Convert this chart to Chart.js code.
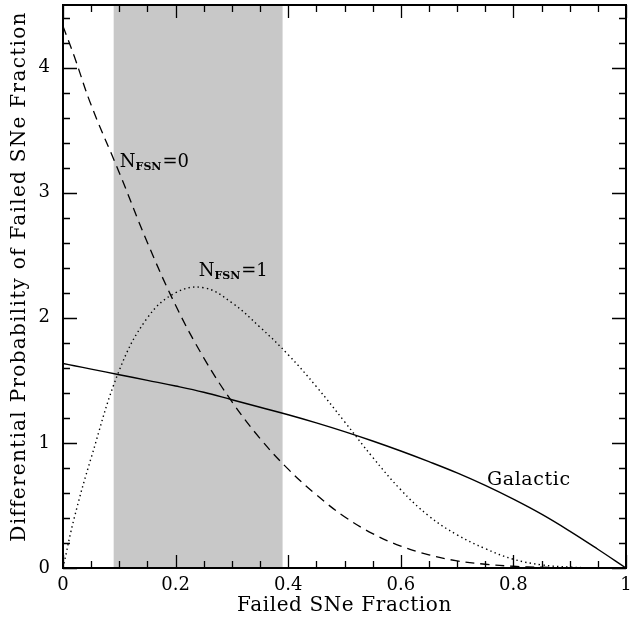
<!DOCTYPE html>
<html>
<head>
<meta charset="utf-8">
<script src="https://cdn.jsdelivr.net/npm/chart.js@4.4.1/dist/chart.umd.min.js"></script>
<style>
  html, body { margin: 0; padding: 0; background: #fff; }
  #wrap { width: 631px; height: 624px; }
</style>
</head>
<body>
<div id="wrap"><canvas id="fsnChart" width="631" height="624"></canvas></div>
<script>
// valores
const fractions  = [0, 0.02, 0.05, 0.1, 0.15, 0.2, 0.25, 0.3, 0.35, 0.4, 0.45, 0.5, 0.55, 0.6, 0.65, 0.7, 0.75, 0.8, 0.85, 0.9, 0.95, 1];
const nfsn0      = [4.33, 4.09, 3.70, 3.16, 2.60, 2.10, 1.68, 1.33, 1.035, 0.79, 0.585, 0.41, 0.275, 0.175, 0.105, 0.057, 0.03, 0.014, 0.006, 0.002, 0.0005, 0];
const nfsn1      = [0, 0.40, 0.88, 1.58, 2.00, 2.20, 2.24, 2.12, 1.925, 1.705, 1.45, 1.17, 0.885, 0.625, 0.415, 0.265, 0.155, 0.07, 0.025, 0.007, 0.001, 0];
const galactic   = [1.635, 1.617, 1.59, 1.545, 1.50, 1.455, 1.405, 1.345, 1.285, 1.225, 1.16, 1.09, 1.015, 0.935, 0.85, 0.76, 0.66, 0.55, 0.43, 0.295, 0.15, 0];
const bandRange  = [0.09, 0.39];
const xTickLabels = ['0', '0.2', '0.4', '0.6', '0.8', '1'];
const yTickLabels = ['0', '1', '2', '3', '4'];

const FONT = '"DejaVu Serif", "Liberation Serif", serif';

function toPoints(ys) {
    return fractions.map((x, i) => ({ x: x, y: ys[i] }));
}

// banda gris + marco, ticks y textos
const framePlugin = {
    id: 'frame',
    beforeDatasetsDraw(chart) {
        const { ctx, chartArea: a, scales: { x } } = chart;
        ctx.save();
        ctx.fillStyle = '#c8c8c8';
        const x0 = x.getPixelForValue(bandRange[0]);
        const x1 = x.getPixelForValue(bandRange[1]);
        ctx.fillRect(x0, a.top, x1 - x0, a.bottom - a.top);
        ctx.restore();
    },
    afterDatasetsDraw(chart) {
        const { ctx, chartArea: a, scales: { x, y } } = chart;
        ctx.save();
        ctx.strokeStyle = '#000';
        ctx.lineWidth = 1.3;

        // ticks hacia dentro en los cuatro lados
        ctx.beginPath();
        for (let i = 0; i <= 20; i++) {
            const v = i * 0.05;
            const px = Math.round(x.getPixelForValue(v)) + 0.5;
            const len = (i % 4 === 0) ? 13 : 7;
            ctx.moveTo(px, a.bottom); ctx.lineTo(px, a.bottom - len);
            ctx.moveTo(px, a.top); ctx.lineTo(px, a.top + len);
        }
        for (let i = 0; i <= 22; i++) {
            const v = i * 0.2;
            const py = Math.round(y.getPixelForValue(v)) + 0.5;
            const len = (i % 5 === 0) ? 14 : 7;
            ctx.moveTo(a.left, py); ctx.lineTo(a.left + len, py);
            ctx.moveTo(a.right, py); ctx.lineTo(a.right - len, py);
        }
        ctx.stroke();

        ctx.lineWidth = 2;
        ctx.strokeRect(a.left, a.top, a.right - a.left, a.bottom - a.top);

        // etiquetas de los ticks
        ctx.fillStyle = '#000';
        ctx.font = '18px ' + FONT;
        ctx.textAlign = 'center';
        ctx.textBaseline = 'middle';
        xTickLabels.forEach(t => {
            ctx.fillText(t, x.getPixelForValue(parseFloat(t)), a.bottom + 17);
        });
        ctx.textAlign = 'right';
        yTickLabels.forEach(t => {
            ctx.fillText(t, a.left - 13, y.getPixelForValue(parseFloat(t)));
        });

        // titulos de ejes
        ctx.font = '20px ' + FONT;
        ctx.textAlign = 'center';
        ctx.letterSpacing = '0.6px';
        ctx.fillText('Failed SNe Fraction', (a.left + a.right) / 2, 606);
        ctx.save();
        ctx.letterSpacing = '1.3px';
        ctx.translate(20, (a.top + a.bottom) / 2 - 10);
        ctx.rotate(-Math.PI / 2);
        ctx.fillText('Differential Probability of Failed SNe Fraction', 0, 0);
        ctx.restore();
        ctx.letterSpacing = '0px';

        // anotaciones de las curvas
        function nLabel(n, px, py) {
            ctx.textAlign = 'left';
            ctx.font = '18px ' + FONT;
            ctx.fillText('N', px, py);
            let w = ctx.measureText('N').width;
            ctx.font = 'bold 11px ' + FONT;
            ctx.fillText('FSN', px + w, py + 5);
            w += ctx.measureText('FSN').width + 1;
            ctx.font = '18px ' + FONT;
            ctx.fillText('=' + n, px + w, py);
        }
        nLabel(0, x.getPixelForValue(0.101), y.getPixelForValue(3.24));
        nLabel(1, x.getPixelForValue(0.241), y.getPixelForValue(2.37));
        ctx.font = '19px ' + FONT;
        ctx.letterSpacing = '0.6px';
        ctx.textAlign = 'left';
        ctx.fillText('Galactic', x.getPixelForValue(0.753), y.getPixelForValue(0.70));
        ctx.restore();
    }
};

new Chart(document.getElementById('fsnChart'), {
    type: 'line',
    data: {
        datasets: [
            {
                label: 'N_FSN=0',
                data: toPoints(nfsn0),
                borderColor: '#000',
                borderWidth: 1.3,
                borderDash: [9, 6],
                pointRadius: 0,
                tension: 0.4,
                fill: false
            },
            {
                label: 'N_FSN=1',
                data: toPoints(nfsn1),
                borderColor: '#000',
                borderWidth: 1.4,
                borderDash: [1.4, 3.2],
                pointRadius: 0,
                tension: 0.4,
                fill: false
            },
            {
                label: 'Galactic',
                data: toPoints(galactic),
                borderColor: '#000',
                borderWidth: 1.4,
                pointRadius: 0,
                tension: 0.4,
                fill: false
            }
        ]
    },
    options: {
        responsive: false,
        animation: false,
        layout: { padding: { left: 63, right: 5, top: 5, bottom: 56 } },
        plugins: {
            legend: { display: false },
            tooltip: { enabled: false }
        },
        scales: {
            x: { type: 'linear', min: 0, max: 1, display: false },
            y: { type: 'linear', min: 0, max: 4.5, display: false }
        }
    },
    plugins: [framePlugin]
});
</script>
</body>
</html>
